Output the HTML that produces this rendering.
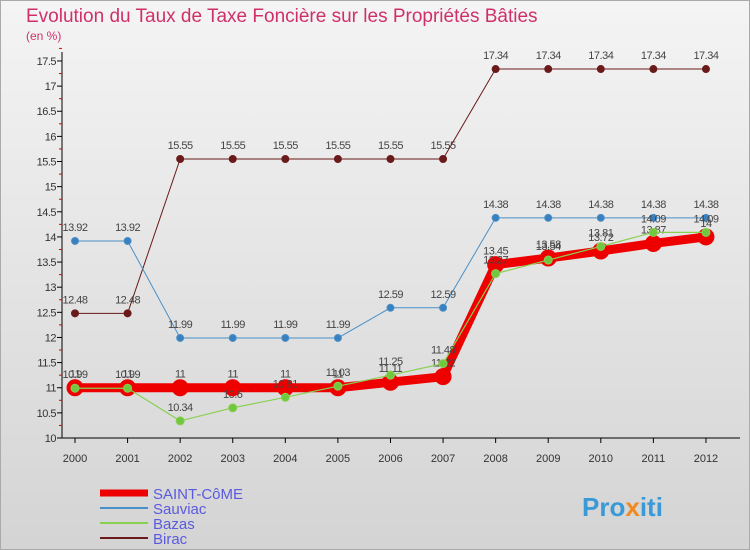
<!DOCTYPE html>
<html><head><meta charset="utf-8"><style>
body{margin:0;width:750px;height:550px;overflow:hidden;font-family:"Liberation Sans",sans-serif}
#wrap{position:absolute;left:0;top:0;width:748px;height:548px;border:1px solid #aaa;background:linear-gradient(#f4f4f4,#d4d4d4)}
</style></head><body>
<div id="wrap">
<svg id="svg" width="750" height="550" style="position:absolute;left:-1px;top:-1px" font-family="Liberation Sans, sans-serif">
<text x="26" y="22" font-size="19" fill="#d0306a">Evolution du Taux de Taxe Foncière sur les Propriétés Bâties</text>
<text x="26" y="40" font-size="12" fill="#d0306a">(en %)</text>
<g id="axes"></g><g id="series"></g><g id="legend"></g>
<text x="582" y="516" font-size="26" font-weight="bold" fill="#3a9ad8">Pro<tspan fill="#f08a20">x</tspan>iti</text>
</svg></div>
<script>
const years=["2000","2001","2002","2003","2004","2005","2006","2007","2008","2009","2010","2011","2012"];
const yTicks=[10,10.5,11,11.5,12,12.5,13,13.5,14,14.5,15,15.5,16,16.5,17,17.5];
const saintCome=[11,11,11,11,11,11,11.11,11.22,13.45,13.58,13.72,13.87,14];
const sauviac=[13.92,13.92,11.99,11.99,11.99,11.99,12.59,12.59,14.38,14.38,14.38,14.38,14.38];
const bazas=[10.99,10.99,10.34,10.6,10.81,11.03,11.25,11.48,13.27,13.54,13.81,14.09,14.09];
const birac=[12.48,12.48,15.55,15.55,15.55,15.55,15.55,15.55,17.34,17.34,17.34,17.34,17.34];
const NS="http://www.w3.org/2000/svg";
const X=i=>75+i*52.58, Y=v=>438-(v-10)*50.27;
function mk(p,t,a){const e=document.createElementNS(NS,t);for(const k in a)e.setAttribute(k,a[k]);p.appendChild(e);return e;}
const ax=document.getElementById('axes');
let e=mk(ax,'line',{x1:62,y1:52,x2:62,y2:438,stroke:'#000'});

e=mk(ax,'line',{x1:62,y1:438,x2:740,y2:438,stroke:'#000'});

yTicks.forEach(v=>{
 mk(ax,'line',{x1:57,y1:Y(v),x2:62,y2:Y(v),stroke:'#000'});
 mk(ax,'line',{x1:59,y1:Y(v+0.25),x2:62,y2:Y(v+0.25),stroke:'#d00'});
 const t=mk(ax,'text',{x:56,y:Y(v)+4,'font-size':11,'text-anchor':'end',fill:'#333','letter-spacing':'-0.5'});t.textContent=v;
 
});
years.forEach((y,i)=>{
 mk(ax,'line',{x1:X(i),y1:438,x2:X(i),y2:443,stroke:'#000'});
 const t=mk(ax,'text',{x:X(i),y:462,'font-size':11,'text-anchor':'middle',fill:'#333'});t.textContent=y;
 
});
const sg=document.getElementById('series');
function series(name,data,color,w,r,dot){
 const g=mk(sg,'g',{});
 
 mk(g,'polyline',{points:data.map((v,i)=>X(i)+','+Y(v)).join(' '),fill:'none',stroke:color,'stroke-width':w});
 data.forEach((v,i)=>{
  const c=mk(g,'circle',{cx:X(i),cy:Y(v),r:r,fill:dot,stroke:color,'stroke-width':1});
  
  const t=mk(g,'text',{x:X(i),y:Y(v)-10,'font-size':11,'text-anchor':'middle',fill:'#444','letter-spacing':'-0.5'});t.textContent=v;
  
 });
}
series('birac',birac,'#6a1a1a',1,3.5,'#6a1a1a');
series('sauviac',sauviac,'#4a90c8',1,3.5,'#3a80c0');
series('saint-come',saintCome,'#ee0000',9,8,'#ee0000');
series('bazas',bazas,'#88d050',1.2,4,'#70c840');
const lg=document.getElementById('legend');
[['SAINT-CôME','#ee0000',7],['Sauviac','#4a90c8',2],['Bazas','#88d050',2],['Birac','#6a1a1a',2]].forEach((d,i)=>{
 const y=493+i*15;
 const g=mk(lg,'g',{});
 
 mk(g,'line',{x1:100,y1:y,x2:148,y2:y,stroke:d[1],'stroke-width':d[2]});
 const t=mk(g,'text',{x:153,y:y+6,'font-size':15,fill:'#5a5ae0'});t.textContent=d[0];
});
</script>
</body></html>
